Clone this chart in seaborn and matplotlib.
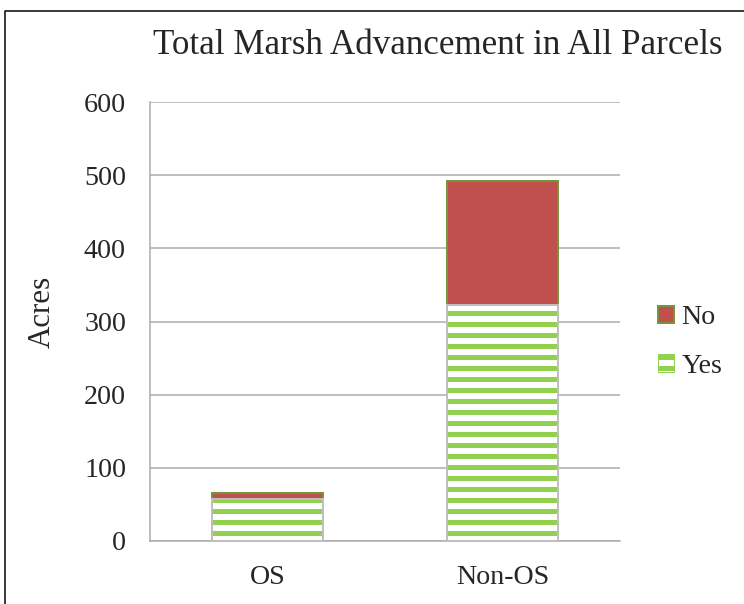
import matplotlib
matplotlib.use("Agg")
import matplotlib.pyplot as plt
from matplotlib.patches import Patch, Rectangle
from matplotlib.lines import Line2D
import seaborn as sns

categories = ["OS", "Non-OS"]
yes_acres = [58, 323]
no_acres = [8, 169]
y_ticks = [0, 100, 200, 300, 400, 500, 600]

DPI = 66
W, H = 744, 604


def pt(px):
    return px * 72 / DPI


GREEN = "#92D050"
RED = "#C0504D"
OLIVE = "#77933C"
OUTLINE = "#BFBFBF"
GRID = "#ABABAB"

sns.set_style("white")
plt.rcParams["font.family"] = ["Liberation Serif", "DejaVu Serif"]
plt.rcParams["hatch.linewidth"] = pt(5)

totals = [y + n for y, n in zip(yes_acres, no_acres)]

fig = plt.figure(figsize=(W / DPI, H / DPI), dpi=DPI)
ax = fig.add_axes([150 / W, 1 - 541 / H, 470 / W, 439 / H])

# "No" stacked on top: draw the totals in red, then cover the lower part with "Yes"
sns.barplot(x=categories, y=totals, color=RED, width=0.47, saturation=1,
            edgecolor=OLIVE, linewidth=pt(2), ax=ax)
n_before = len(ax.patches)
sns.barplot(x=categories, y=yes_acres, color="white", width=0.47, saturation=1,
            edgecolor=GREEN, hatch="-", linewidth=0, ax=ax)
for bar in ax.patches[n_before:]:
    ax.add_patch(Rectangle(bar.get_xy(), bar.get_width(), bar.get_height(),
                           fill=False, edgecolor=OUTLINE, linewidth=pt(2), zorder=3))

ax.set_ylim(0, 600)
ax.set_yticks(y_ticks)
ax.yaxis.grid(True, color=GRID, linewidth=pt(1.5))
ax.set_axisbelow(True)
ax.tick_params(axis="y", length=0, pad=pt(24), labelsize=pt(28))
ax.tick_params(axis="x", length=0, pad=pt(24), labelsize=pt(28))
ax.set_xlabel("")
ax.set_ylabel("")
for side in ["top", "right"]:
    ax.spines[side].set_visible(False)
for side in ["left", "bottom"]:
    ax.spines[side].set_color(GRID)
    ax.spines[side].set_linewidth(pt(1.5))

fig.text(438 / W, 1 - 46 / H, "Total Marsh Advancement in All Parcels",
         ha="center", va="center", fontsize=pt(35))
fig.text(42 / W, 1 - 312 / H, "Acres", rotation=90,
         ha="center", va="center", fontsize=pt(31))

handles = [
    Patch(facecolor=RED, edgecolor=OLIVE, linewidth=pt(2), label="No"),
    Patch(facecolor="white", edgecolor=GREEN, hatch="-", linewidth=pt(1), label="Yes"),
]
fig.legend(handles=handles, loc="center left", bbox_to_anchor=(658 / W, 1 - 342 / H),
           frameon=False, fontsize=pt(28), handlelength=0.58, handleheight=0.58,
           handletextpad=0.25, labelspacing=0.85, borderpad=0, borderaxespad=0)

# frame of the chart area: only its left and top edges fall inside the picture
fig.add_artist(Line2D([5 / W, 5 / W, 1], [0, 1 - 11 / H, 1 - 11 / H],
                      transform=fig.transFigure, color="black", linewidth=pt(1.5)))

fig.savefig("out.png", dpi=DPI)
